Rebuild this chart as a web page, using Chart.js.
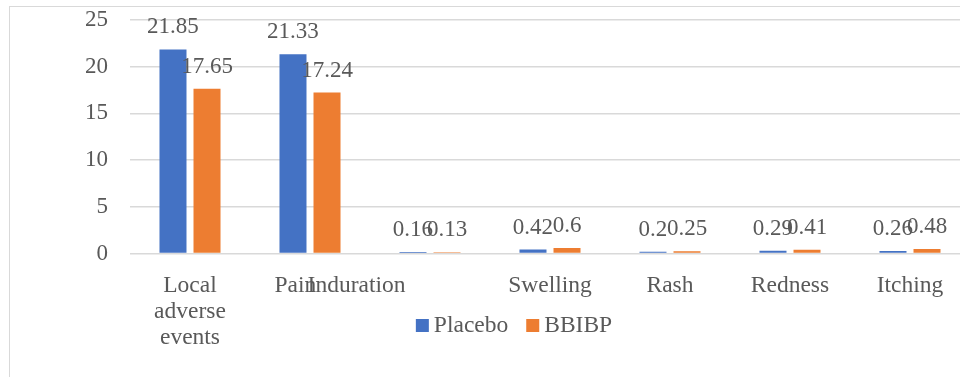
<!DOCTYPE html>
<html>
<head>
<meta charset="utf-8">
<script src="https://cdn.jsdelivr.net/npm/chart.js@4/dist/chart.umd.min.js"></script>
<style>
  html, body { margin: 0; padding: 0; background: #fff; overflow: hidden; }
  #wrap { position: relative; width: 960px; height: 377px; overflow: hidden; }
  #frame { position: absolute; left: 9px; top: 6px; width: 1000px; height: 500px;
           border: 1px solid #d9d9d9; box-sizing: border-box; }
  #box { position: absolute; left: 0; top: 0; width: 970px; height: 377px; }
</style>
</head>
<body>
<div id="wrap">
  <div id="frame"></div>
  <div id="box"><canvas id="c" width="970" height="377"></canvas></div>
</div>
<script>
// Adverse reaction categories (multi-line labels are pre-wrapped;
// some labels carry trailing spaces from the source sheet)
const categories = [["Local", "adverse", "events"], "Pain     ", "Induration                         ", "Swelling", "Rash", "Redness", "Itching"];
const placebo = [21.85, 21.33, 0.16, 0.42, 0.2, 0.29, 0.26];
const bbibp = [17.65, 17.24, 0.13, 0.6, 0.25, 0.41, 0.48];
const seriesNames = ["Placebo", "BBIBP"];
const yTicks = [0, 5, 10, 15, 20, 25];

const TEXT = "#595959";
const SERIF = "'Liberation Serif', 'Times New Roman', serif";

// Value labels above each bar
const valueLabels = {
  id: "valueLabels",
  afterDatasetsDraw(chart) {
    const ctx = chart.ctx;
    ctx.save();
    ctx.font = "23px " + SERIF;
    ctx.fillStyle = TEXT;
    ctx.textAlign = "center";
    ctx.textBaseline = "middle";
    chart.data.datasets.forEach((ds, i) => {
      chart.getDatasetMeta(i).data.forEach((bar, j) => {
        ctx.fillText(String(ds.data[j]), bar.x, bar.y - 22);
      });
    });
    ctx.restore();
  }
};

// Legend drawn across the label band below the axis
const bottomLegend = {
  id: "bottomLegend",
  afterDraw(chart) {
    const ctx = chart.ctx;
    ctx.save();
    ctx.font = "23.5px " + SERIF;
    ctx.textBaseline = "alphabetic";
    const sq = 13, gap = 5, spacing = 18;
    const items = chart.data.datasets.map(ds => ({
      label: ds.label, color: ds.backgroundColor, w: ctx.measureText(ds.label).width
    }));
    const total = items.reduce((s, it) => s + sq + gap + it.w, 0) + spacing * (items.length - 1);
    let x = 514 - total / 2;
    const baseline = 332;
    items.forEach(it => {
      ctx.fillStyle = it.color;
      ctx.fillRect(x, baseline - 13, sq, sq);
      x += sq + gap;
      ctx.fillStyle = TEXT;
      ctx.fillText(it.label, x, baseline);
      x += it.w + spacing;
    });
    ctx.restore();
  }
};

new Chart(document.getElementById("c"), {
  type: "bar",
  data: {
    labels: categories,
    datasets: [
      { label: seriesNames[0], data: placebo, backgroundColor: "#4472c4" },
      { label: seriesNames[1], data: bbibp, backgroundColor: "#ed7d31" }
    ]
  },
  options: {
    responsive: false,
    animation: false,
    devicePixelRatio: 1,
    layout: { padding: { top: 20, left: 0, right: 0, bottom: 0 } },
    datasets: { bar: { categoryPercentage: 0.567, barPercentage: 0.794 } },
    plugins: { legend: { display: false }, tooltip: { enabled: false } },
    scales: {
      x: {
        grid: { display: false },
        border: { display: false },
        ticks: {
          color: TEXT,
          font: { family: SERIF, size: 23.5, lineHeight: 1.12 },
          maxRotation: 0, minRotation: 0, autoSkip: false, padding: 11
        },
        afterFit(scale) {
          scale.height = 123.5;
          scale.paddingLeft = 0;
          scale.paddingRight = 0;
        }
      },
      y: {
        min: 0, max: 25,
        afterBuildTicks(scale) { scale.ticks = yTicks.map(v => ({ value: v })); },
        grid: { color: "#d9d9d9", lineWidth: 1.5, drawTicks: false },
        border: { display: false },
        ticks: { color: TEXT, font: { family: SERIF, size: 23 }, padding: 22 },
        afterFit(scale) {
          scale.width = 130;
          scale.paddingTop = 0;
          scale.paddingBottom = 0;
        }
      }
    }
  },
  plugins: [valueLabels, bottomLegend]
});
</script>
</body>
</html>
